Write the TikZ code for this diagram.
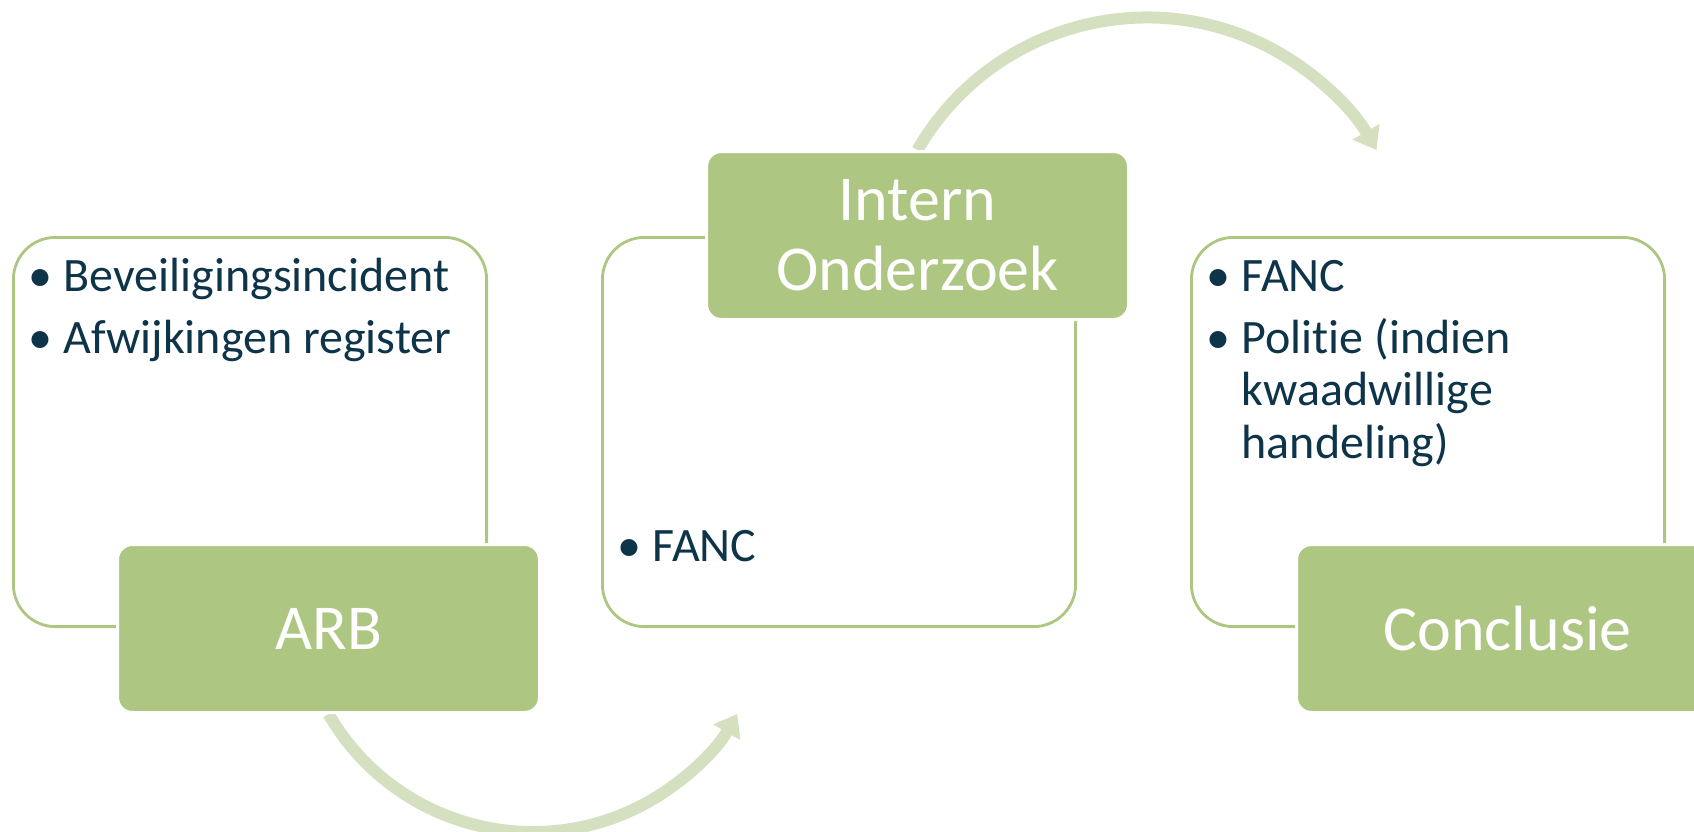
\documentclass[tikz,border=0pt]{standalone}
\usepackage{fontspec}
\setmainfont{Carlito}[RawFeature={-liga;-clig;-calt;-dlig}]
\usepackage{tikz}
\usetikzlibrary{arrows.meta, positioning, backgrounds}
\definecolor{stepgreen}{RGB}{173,198,130}
\definecolor{arcgreen}{RGB}{213,224,193}
\definecolor{navy}{RGB}{14,52,74}
\tikzstyle{panel} = [draw=stepgreen, line width=2.8pt, fill=white, rectangle, rounded corners=42pt, minimum width=473.2pt, minimum height=389.2pt, inner sep=0pt]
\tikzstyle{head} = [draw=white, line width=3pt, fill=stepgreen, rectangle, rounded corners=15pt, minimum width=422pt, minimum height=168pt, inner sep=0pt, text=white, align=center, font=\fontsize{64}{70}\selectfont]
\tikzstyle{list} = [inner sep=0pt, text=navy, font=\fontsize{48}{52.7}\selectfont]
\tikzstyle{flow} = [arcgreen, line width=12pt, -{Triangle[width=30pt,length=21pt]}]
\newcommand{\bul}{\llap{\makebox[46pt]{\textbullet}}}
\newcommand{\items}[1]{\begin{tabular}[t]{@{}l@{}}#1\end{tabular}}

\begin{document}
\begin{tikzpicture}[x=1pt, y=-1pt]
  \useasboundingbox (0,0) rectangle (1694,832);
  \node[panel] (arbpanel) at (250,432) {};
  \node[panel, right of=arbpanel, node distance=589pt] (onderzoekpanel) {};
  \node[panel, right of=onderzoekpanel, node distance=589pt] (conclusiepanel) {};
  \node[head, anchor=north west, xshift=104pt, yshift=-307pt] (arb) at (arbpanel.north west) {ARB};
  \node[head, anchor=north west, xshift=104pt, yshift=86pt] (onderzoek) at (onderzoekpanel.north west) {Intern\\Onderzoek};
  \node[head, anchor=north west, xshift=105pt, yshift=-307pt] (conclusie) at (conclusiepanel.north west) {Conclusie};
  \node[list, anchor=base west, xshift=51.5pt, yshift=-55pt] (arbtext) at (arbpanel.north west)
    {\items{\bul Beveiligingsincident\\[9.3pt]\bul Afwijkingen register}};
  \node[list, anchor=base west, xshift=51.5pt, yshift=-325pt] (onderzoektext) at (onderzoekpanel.north west)
    {\items{\bul FANC}};
  \node[list, anchor=base west, xshift=51.5pt, yshift=-55pt] (conclusietext) at (conclusiepanel.north west)
    {\items{\bul FANC\\[9.3pt]\bul Politie (indien\\kwaadwillige\\handeling)}};
  \begin{scope}[on background layer]
    \draw[flow] (arb.south) arc[start angle=210, end angle=330, radius=236pt];
    \draw[flow] (onderzoek.north) arc[start angle=150, end angle=30, radius=265pt];
  \end{scope}
\end{tikzpicture}
\end{document}
